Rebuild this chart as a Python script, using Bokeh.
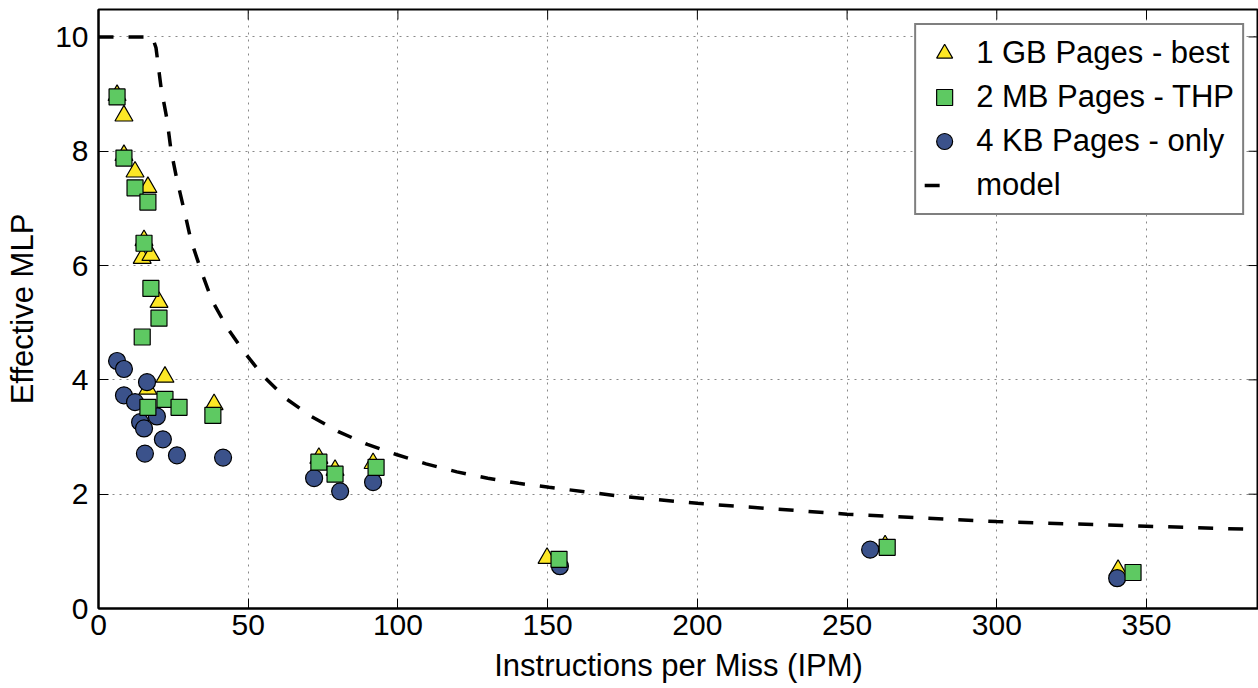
import math
from bokeh.plotting import figure
from bokeh.models import FixedTicker, Legend, LegendItem, Range1d
from bokeh.embed import file_html
from bokeh.resources import INLINE

# ---- data ----
gb_x = [6.2, 8.5, 8.5, 12.2, 16.5, 15.2, 14.6, 17.5, 20.2, 22.2, 16.5, 38.6,
        73.6, 79.0, 91.7, 149.8, 262.7, 340.5]
gb_y = [8.98, 8.62, 7.93, 7.64, 7.37, 6.44, 6.13, 6.18, 5.36, 4.05, 3.84, 3.57,
        2.63, 2.42, 2.54, 0.88, 1.10, 0.67]

mb_x = [6.2, 8.5, 12.2, 16.5, 15.2, 17.5, 20.2, 14.6, 22.2, 16.5, 26.9, 38.2,
        73.6, 79.0, 92.7, 153.8, 263.4, 345.5]
mb_y = [8.95, 7.88, 7.36, 7.11, 6.39, 5.60, 5.08, 4.75, 3.66, 3.52, 3.52, 3.38,
        2.56, 2.35, 2.47, 0.86, 1.07, 0.63]

kb_x = [6.2, 8.5, 16.2, 8.5, 12.2, 19.5, 13.9, 15.2, 21.5, 15.5, 26.2, 41.6,
        72.0, 80.7, 91.7, 154.1, 257.7, 340.2]
kb_y = [4.33, 4.19, 3.96, 3.73, 3.61, 3.36, 3.26, 3.15, 2.96, 2.71, 2.68, 2.64,
        2.28, 2.05, 2.21, 0.74, 1.03, 0.53]

model_x = [0, 18.0, 19.2, 20.9, 22.9, 24.2, 26.2, 28.6, 30.9, 34.2, 37.9, 42.9,
           48.6, 55.3, 62.7, 71.1, 80.3, 89.8, 99.7, 109.4, 119.7, 130.0, 140.3,
           150.5, 175, 200, 250, 300, 350, 388]
model_y = [10, 10, 9.81, 9.11, 8.55, 8.02, 7.50, 6.97, 6.44, 5.92, 5.39, 4.92,
           4.49, 4.05, 3.67, 3.36, 3.09, 2.87, 2.69, 2.53, 2.39, 2.28, 2.19,
           2.12, 1.96, 1.84, 1.65, 1.52, 1.44, 1.38]

x_ticks = [0, 50, 100, 150, 200, 250, 300, 350]
y_ticks = [0, 2, 4, 6, 8, 10]
x_max = 387.4
y_max = 10.48

labels = ["1 GB Pages - best", "2 MB Pages - THP", "4 KB Pages - only", "model"]
colors = ["#FDE725", "#5EC962", "#3B528B"]

FONT = "Liberation Sans"
FS = "30px"

p = figure(width=1258, height=688, output_backend="svg", toolbar_location=None,
           x_range=Range1d(0, x_max), y_range=Range1d(0, y_max),
           min_border_left=98, min_border_right=0, min_border_top=9,
           min_border_bottom=80, x_axis_label="Instructions per Miss (IPM)",
           y_axis_label="Effective MLP")
p.background_fill_color = "white"
p.border_fill_color = "white"
p.outline_line_color = "black"
p.outline_line_width = 2

for ax in (p.xaxis[0], p.yaxis[0]):
    ax.major_tick_in = 10
    ax.major_tick_out = 0
    ax.minor_tick_line_color = None
    ax.axis_line_width = 2
    ax.axis_line_color = "black"
    ax.major_tick_line_color = "black"
    ax.major_tick_line_width = 1
    ax.major_label_text_font = FONT
    ax.major_label_text_font_size = FS
    ax.major_label_text_color = "black"
    ax.axis_label_text_font = FONT
    ax.axis_label_text_font_size = "31px"
    ax.axis_label_text_font_style = "normal"
    ax.axis_label_text_color = "black"
p.xaxis[0].ticker = FixedTicker(ticks=x_ticks)
p.yaxis[0].ticker = FixedTicker(ticks=y_ticks)
p.xaxis[0].major_label_standoff = 6
p.xaxis[0].axis_label_standoff = 10
p.yaxis[0].major_label_standoff = 10
p.yaxis[0].axis_label_standoff = 12

for g in (p.xgrid[0], p.ygrid[0]):
    g.grid_line_color = "#888888"
    g.grid_line_dash = "2 5"
    g.grid_line_width = 1
p.xgrid[0].ticker = FixedTicker(ticks=x_ticks)
p.ygrid[0].ticker = FixedTicker(ticks=y_ticks)

# mirrored inward ticks on the top and right frame edges (clipped half of a dash marker)
p.scatter(x_ticks, [y_max] * len(x_ticks), marker="dash", size=20,
          angle=math.pi / 2, line_color="black", line_width=1)
p.scatter([x_max] * len(y_ticks), y_ticks, marker="dash", size=20,
          line_color="black", line_width=1)

model = p.line(model_x, model_y, line_color="black", line_width=3.5, line_dash="15 15")
# legend sample for the model: single-point line (draws nothing on the plot),
# styled so the legend shows one short dash as in the reference
model_key = p.line(model_x[:1], model_y[:1], line_color="black", line_width=3.5,
                   line_dash="15 40")
r_gb = p.scatter(gb_x, gb_y, marker="triangle", size=18, fill_color=colors[0],
                 line_color="black", line_width=1.2)
r_kb = p.scatter(kb_x, kb_y, marker="circle", size=17, fill_color=colors[2],
                 line_color="black", line_width=1.2)
r_mb = p.scatter(mb_x, mb_y, marker="square", size=16, fill_color=colors[1],
                 line_color="black", line_width=1.2)

legend = Legend(items=[LegendItem(label=labels[0], renderers=[r_gb]),
                       LegendItem(label=labels[1], renderers=[r_mb]),
                       LegendItem(label=labels[2], renderers=[r_kb]),
                       LegendItem(label=labels[3], renderers=[model_key])],
                location="top_right")
legend.margin = 14
legend.padding = 8
legend.spacing = 4
legend.glyph_width = 40
legend.glyph_height = 40
legend.label_height = 40
legend.label_standoff = 12
legend.label_text_font = FONT
legend.label_text_font_size = "31px"
legend.label_text_color = "black"
legend.border_line_color = "black"
legend.border_line_width = 2
legend.background_fill_alpha = 1.0
p.add_layout(legend)

open("out.html", "w").write(file_html(p, INLINE))
